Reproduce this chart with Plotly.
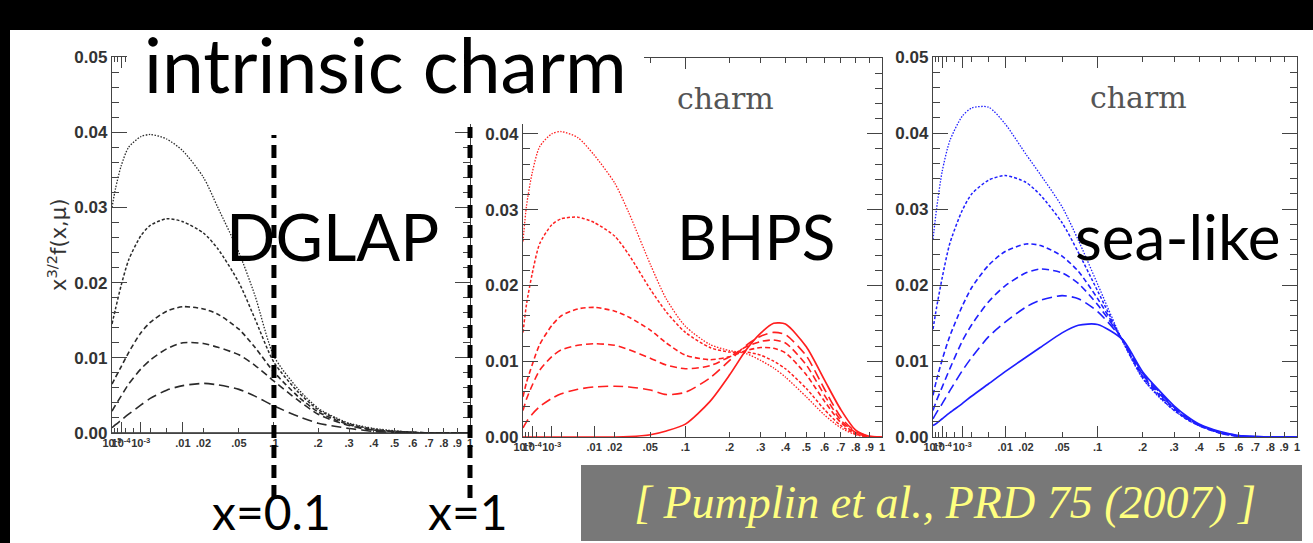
import plotly.graph_objects as go

W, H = 1313, 543

# ---------------- data ----------------
x_vals = [1e-5, 3e-5, 1e-4, 3e-4, 1e-3, 2e-3, 5e-3, 0.01, 0.02, 0.03, 0.05, 0.07,
          0.1, 0.15, 0.2, 0.25, 0.3, 0.35, 0.4, 0.5, 0.6, 0.7, 0.8, 0.9, 1.0]

# index 0 = starting scale (solid) ... index 5 = highest scale (fine dots)
dglap_0 = [0.0] * 25
dglap_1 = [0.0007, 0.0011, 0.0017, 0.0025, 0.0037, 0.0046, 0.0057, 0.0063, 0.0066, 0.0064, 0.0058, 0.0049,
           0.0036, 0.0022, 0.0013, 0.0009, 0.0006, 0.0004, 0.0002, 0.0001, 0.0, 0.0, 0.0, 0.0, 0.0]
dglap_2 = [0.0029, 0.0037, 0.0049, 0.0065, 0.0085, 0.0097, 0.0112, 0.0120, 0.0119, 0.0114, 0.0104, 0.0090,
           0.0069, 0.0043, 0.0025, 0.0016, 0.0010, 0.0006, 0.0004, 0.0002, 0.0001, 0.0, 0.0, 0.0, 0.0]
dglap_3 = [0.0065, 0.0074, 0.0088, 0.0107, 0.0133, 0.0147, 0.0162, 0.0168, 0.0165, 0.0158, 0.0138, 0.0114,
           0.0081, 0.0048, 0.0028, 0.0018, 0.0011, 0.0007, 0.0004, 0.0002, 0.0001, 0.0, 0.0, 0.0, 0.0]
dglap_4 = [0.0145, 0.0165, 0.0196, 0.0230, 0.0262, 0.0276, 0.0285, 0.0281, 0.0266, 0.0245, 0.0200, 0.0152,
           0.0094, 0.0054, 0.0031, 0.0020, 0.0012, 0.0008, 0.0005, 0.0002, 0.0001, 0.0, 0.0, 0.0, 0.0]
dglap_5 = [0.0300, 0.0325, 0.0355, 0.0380, 0.0394, 0.0397, 0.0391, 0.0375, 0.0340, 0.0300, 0.0240, 0.0183,
           0.0102, 0.0058, 0.0033, 0.0021, 0.0013, 0.0009, 0.0006, 0.0003, 0.0001, 0.0, 0.0, 0.0, 0.0]

bhps_0 = [0.0, 0.0, 0.0, 0.0, 0.0, 0.0, 0.0, 0.0, 0.0, 0.00005, 0.0003, 0.0008,
          0.0017, 0.0047, 0.0082, 0.0115, 0.0137, 0.0150, 0.0149, 0.0119, 0.0075, 0.0036, 0.0009, 0.0001, 0.0]
bhps_1 = [0.0012, 0.0020, 0.0030, 0.0040, 0.0051, 0.0057, 0.0063, 0.0066, 0.0067, 0.0066, 0.0062, 0.0056,
          0.0059, 0.0078, 0.0101, 0.0121, 0.0133, 0.0138, 0.0135, 0.0107, 0.0063, 0.0026, 0.0007, 0.0001, 0.0]
bhps_2 = [0.0035, 0.0050, 0.0068, 0.0088, 0.0106, 0.0115, 0.0121, 0.0123, 0.0121, 0.0115, 0.0104, 0.0095,
          0.0090, 0.0094, 0.0106, 0.0119, 0.0126, 0.0128, 0.0124, 0.0095, 0.0055, 0.0022, 0.0006, 0.0, 0.0]
bhps_3 = [0.0053, 0.0072, 0.0095, 0.0122, 0.0147, 0.0160, 0.0169, 0.0171, 0.0166, 0.0158, 0.0141, 0.0124,
          0.0108, 0.0102, 0.0106, 0.0114, 0.0118, 0.0117, 0.0111, 0.0082, 0.0047, 0.0019, 0.0005, 0.0, 0.0]
bhps_4 = [0.0138, 0.0175, 0.0215, 0.0255, 0.0280, 0.0288, 0.0290, 0.0283, 0.0265, 0.0240, 0.0195, 0.0165,
          0.0138, 0.0118, 0.0112, 0.0112, 0.0108, 0.0100, 0.0090, 0.0064, 0.0036, 0.0015, 0.0004, 0.0, 0.0]
bhps_5 = [0.0258, 0.0305, 0.0348, 0.0383, 0.0400, 0.0403, 0.0395, 0.0372, 0.0335, 0.0295, 0.0228, 0.0182,
          0.0146, 0.0122, 0.0114, 0.0110, 0.0101, 0.0091, 0.0079, 0.0053, 0.0029, 0.0012, 0.0003, 0.0, 0.0]

sea_0 = [0.0015, 0.0018, 0.0024, 0.0032, 0.0044, 0.0054, 0.0070, 0.0086, 0.0105, 0.0118, 0.0137, 0.0147,
         0.0148, 0.0128, 0.0086, 0.0061, 0.0041, 0.0027, 0.0017, 0.0007, 0.0002, 0.0001, 0.0, 0.0, 0.0]
sea_1 = [0.0024, 0.0032, 0.0044, 0.0061, 0.0087, 0.0105, 0.0132, 0.0151, 0.0171, 0.0180, 0.0186, 0.0182,
         0.0165, 0.0128, 0.0084, 0.0059, 0.0039, 0.0026, 0.0016, 0.0006, 0.0002, 0.0, 0.0, 0.0, 0.0]
sea_2 = [0.0035, 0.0048, 0.0066, 0.0090, 0.0126, 0.0148, 0.0178, 0.0199, 0.0216, 0.0221, 0.0216, 0.0202,
         0.0174, 0.0128, 0.0082, 0.0057, 0.0038, 0.0025, 0.0016, 0.0006, 0.0001, 0.0, 0.0, 0.0, 0.0]
sea_3 = [0.0055, 0.0075, 0.0102, 0.0133, 0.0172, 0.0197, 0.0226, 0.0244, 0.0254, 0.0252, 0.0238, 0.0218,
         0.0182, 0.0127, 0.0080, 0.0055, 0.0037, 0.0024, 0.0015, 0.0005, 0.0001, 0.0, 0.0, 0.0, 0.0]
sea_4 = [0.0142, 0.0170, 0.0210, 0.0255, 0.0298, 0.0320, 0.0338, 0.0344, 0.0335, 0.0318, 0.0282, 0.0243,
         0.0192, 0.0126, 0.0078, 0.0053, 0.0035, 0.0023, 0.0015, 0.0005, 0.0001, 0.0, 0.0, 0.0, 0.0]
sea_5 = [0.0260, 0.0300, 0.0350, 0.0390, 0.0422, 0.0433, 0.0434, 0.0412, 0.0372, 0.0345, 0.0303, 0.0259,
         0.0201, 0.0126, 0.0077, 0.0052, 0.0035, 0.0023, 0.0015, 0.0005, 0.0001, 0.0, 0.0, 0.0, 0.0]

x_tick_vals = [1e-5, 2e-5, 5e-5, 1e-4, 2e-4, 5e-4, 1e-3, 2e-3, 5e-3, 0.01, 0.02, 0.05,
               0.1, 0.2, 0.3, 0.4, 0.5, 0.6, 0.7, 0.8, 0.9, 1.0]
x_tick_text = ["10<sup>-5</sup>", "", "", "10<sup>-4</sup>", "", "", "10<sup>-3</sup>", "", "",
               ".01", ".02", ".05", ".1", ".2", ".3", ".4", ".5", ".6", ".7", ".8", ".9", "1"]
x_long_ticks = [1e-5, 1e-4, 1e-3, 0.01, 0.1, 1.0]
y_tick_vals = [0.0, 0.01, 0.02, 0.03, 0.04, 0.05]
y_tick_text = ["0.00", "0.01", "0.02", "0.03", "0.04", "0.05"]
# the BHPS panel's top label sits under the slide title in the original, so it is not shown
y_tick_text_bhps = ["0.00", "0.01", "0.02", "0.03", "0.04", ""]
marker_x = [0.1, 1.0]          # vertical markers in the DGLAP panel
marker_labels = ["x=0.1", "x=1"]
# ---------------------------------------------------------------


def u(x):
    # axis scale of the original figure: linear in x^(1/3)
    return x ** (1.0 / 3.0)


def fx(p):
    return p / W


def fy(p):
    return 1 - p / H


series = [
    [dglap_0, dglap_1, dglap_2, dglap_3, dglap_4, dglap_5],
    [bhps_0, bhps_1, bhps_2, bhps_3, bhps_4, bhps_5],
    [sea_0, sea_1, sea_2, sea_3, sea_4, sea_5],
]
ytexts = [y_tick_text, y_tick_text_bhps, y_tick_text]
colors = ["#2a2a2a", "#ff1f1f", "#1f1fff"]
dashes = ["solid", "10px,5px", "7px,4px", "5px,3px", "3px,2px", "1.5px,1.5px"]
widths = [1.7, 1.6, 1.6, 1.6, 1.5, 1.3]

# pixel boxes of the three frames (left, right, top, bottom)
boxes = [(112, 470, 57, 433), (523, 882, 58, 437), (933, 1297, 57, 437)]
XMIN, XMAX = u(1e-5), 1.0

fig = go.Figure()
ux = [u(v) for v in x_vals]
for p, group in enumerate(series):
    xa = "x" if p == 0 else f"x{p+1}"
    ya = "y" if p == 0 else f"y{p+1}"
    for k, ys in enumerate(group):
        fig.add_trace(go.Scatter(
            x=ux, y=ys, mode="lines", xaxis=xa, yaxis=ya,
            line=dict(color=colors[p], width=widths[k], dash=dashes[k],
                      shape="spline", smoothing=0.7),
            hoverinfo="skip", showlegend=False))

axis_col = "#444444"
tick_font_x = dict(family="Liberation Sans, Arial", size=11, color="#333", weight="bold")
tick_font_y = dict(family="Liberation Sans, Arial", size=17, color="#333", weight="bold")

layout = dict(
    width=W, height=H, margin=dict(l=0, r=0, t=0, b=0, autoexpand=False),
    paper_bgcolor="white", plot_bgcolor="white", showlegend=False,
)
for p, (l, r, t, b) in enumerate(boxes):
    xs = "xaxis" if p == 0 else f"xaxis{p+1}"
    ys = "yaxis" if p == 0 else f"yaxis{p+1}"
    ya = "y" if p == 0 else f"y{p+1}"
    xa = "x" if p == 0 else f"x{p+1}"
    layout[xs] = dict(
        domain=[fx(l), fx(r)], anchor=ya, range=[XMIN, XMAX],
        tickmode="array", tickvals=[u(v) for v in x_tick_vals], ticktext=x_tick_text,
        ticks="inside", ticklen=5, tickwidth=1, tickcolor=axis_col, tickangle=0,
        minor=dict(tickmode="array", tickvals=[u(v) for v in x_long_ticks],
                   ticks="inside", ticklen=11, tickwidth=1, tickcolor=axis_col),
        showline=True, linecolor=axis_col, linewidth=1.4, mirror="allticks",
        showgrid=False, zeroline=False, tickfont=tick_font_x, fixedrange=True,
    )
    layout[ys] = dict(
        domain=[fy(b), fy(t)], anchor=xa, range=[0, 0.05],
        tickmode="array", tickvals=y_tick_vals, ticktext=ytexts[p],
        ticks="inside", ticklen=15, tickwidth=1.2, tickcolor=axis_col,
        minor=dict(dtick=0.002, tick0=0, ticks="inside", ticklen=7, tickwidth=1, tickcolor=axis_col),
        showline=True, linecolor=axis_col, linewidth=1.4, mirror="allticks",
        showgrid=False, zeroline=False, tickfont=tick_font_y, fixedrange=True,
    )


def panel1_paper_x(xv):
    # position of data value xv on the first panel's x axis, in paper units
    l, r = boxes[0][0], boxes[0][1]
    frac = (u(xv) - XMIN) / (XMAX - XMIN)
    return fx(l) + frac * (fx(r) - fx(l))


shapes = [
    # slide frame
    dict(type="rect", xref="paper", yref="paper", x0=-0.05, x1=1.05, y0=fy(30), y1=1.1,
         fillcolor="black", line=dict(width=0), layer="above"),
    dict(type="rect", xref="paper", yref="paper", x0=-0.05, x1=fx(10), y0=-0.1, y1=1.1,
         fillcolor="black", line=dict(width=0), layer="above"),
    # white area behind the slide title
    dict(type="rect", xref="paper", yref="paper", x0=fx(127), x1=fx(644), y0=fy(124), y1=fy(30),
         fillcolor="white", line=dict(width=0), layer="above"),
    # citation box
    dict(type="rect", xref="paper", yref="paper", x0=fx(581), x1=fx(1302), y0=fy(541), y1=fy(465),
         fillcolor="#787878", line=dict(width=0), layer="above"),
]
for xv, top in zip(marker_x, [135, 127]):
    px_ = panel1_paper_x(xv)
    shapes.append(dict(type="line", xref="paper", yref="paper", x0=px_, x1=px_, y0=fy(498), y1=fy(top),
                       line=dict(color="black", width=5, dash="13px,7px"), layer="above"))
layout["shapes"] = shapes

big = "Lato, Noto Sans, sans-serif"
ann = [
    dict(text="intrinsic charm", x=fx(142), y=fy(64), xanchor="left", yanchor="middle",
         font=dict(family=big, size=75, color="black")),
    dict(text="DGLAP", x=fx(224), y=fy(236), xanchor="left", yanchor="middle",
         font=dict(family=big, size=65, color="black")),
    dict(text="BHPS", x=fx(675), y=fy(236), xanchor="left", yanchor="middle",
         font=dict(family=big, size=62, color="black")),
    dict(text="sea-like", x=fx(1073), y=fy(236), xanchor="left", yanchor="middle",
         font=dict(family=big, size=62, color="black")),
    dict(text="charm", x=fx(725), y=fy(99), xanchor="center", yanchor="middle",
         font=dict(family="DejaVu Serif", size=30, color="#555")),
    dict(text="charm", x=fx(1138), y=fy(98), xanchor="center", yanchor="middle",
         font=dict(family="DejaVu Serif", size=30, color="#555")),
    dict(text="x<sup>3/2</sup>f(x,μ)", x=fx(57), y=fy(245), xanchor="center", yanchor="middle",
         textangle=-90, font=dict(family="DejaVu Sans", size=21, color="#333")),
    dict(text="<i>[ Pumplin et al., PRD 75 (2007) ]</i>", x=fx(945), y=fy(502),
         xanchor="center", yanchor="middle",
         font=dict(family="Liberation Serif", size=46, color="#ffff80")),
]
for xv, lab in zip(marker_x, marker_labels):
    ann.append(dict(text=lab, x=panel1_paper_x(xv) - fx(2), y=fy(511), xanchor="center",
                    yanchor="middle", font=dict(family=big, size=48, color="black")))
for a in ann:
    a.update(xref="paper", yref="paper", showarrow=False)
layout["annotations"] = ann

fig.update_layout(**layout)
fig.write_html(
    "out.html",
    post_script=(
        "document.documentElement.style.margin='0';"
        "document.body.style.margin='0';document.body.style.padding='0';"
        "document.body.style.overflow='hidden';"
        "var g=document.getElementsByClassName('plotly-graph-div')[0];"
        "g.style.position='fixed';g.style.left='0px';g.style.top='0px';"
    ),
)
